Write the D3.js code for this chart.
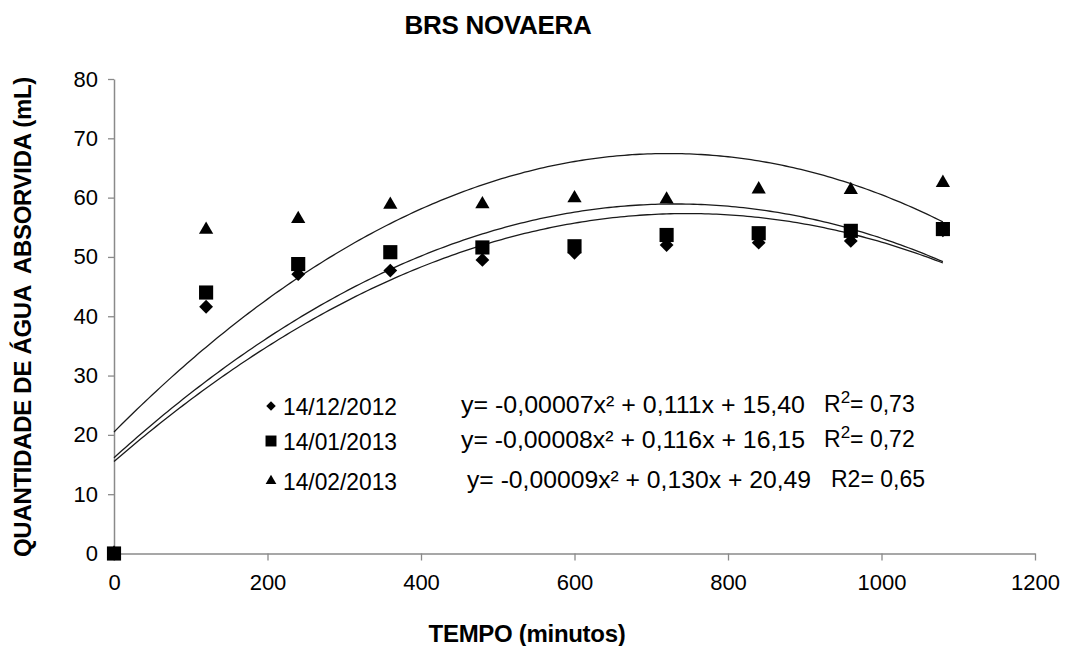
<!DOCTYPE html>
<html>
<head>
<meta charset="utf-8">
<script src="https://cdn.jsdelivr.net/npm/d3@7"></script>
<style>
  body { margin: 0; background: #fff; }
  text { font-family: "Liberation Sans", Arial, sans-serif; fill: #000; }
</style>
</head>
<body>
<svg id="chart" width="1066" height="646"></svg>
<script>
// tempo (minutos)
const tempos = [0, 120, 240, 360, 480, 600, 720, 840, 960, 1080];

// quantidade de água absorvida (mL) por data de colheita
const dez2012 = [0, 41.6, 47.1, 47.7, 49.5, 50.7, 52.0, 52.4, 52.7, 54.5];
const jan2013 = [0, 44.0, 48.8, 50.8, 51.6, 51.8, 53.7, 54.0, 54.4, 54.7];
const fev2013 = [0, 54.6, 56.4, 58.8, 58.9, 59.9, 59.7, 61.4, 61.3, 62.5];

// trendline coefficients [a, b, c] as drawn
const fitDez = [-0.000075, 0.112, 15.5];
const fitJan = [-0.00008, 0.117, 16.15];
const fitFev = [-0.00009, 0.130, 20.49];

const legendLabels = ["14/12/2012", "14/01/2013", "14/02/2013"];
const equations = [
  "y= -0,00007x² + 0,111x + 15,40",
  "y= -0,00008x² + 0,116x + 16,15",
  "y= -0,00009x² + 0,130x + 20,49",
];
const r2Labels = [["R", "2", "= 0,73"], ["R", "2", "= 0,72"], ["R2", "", "= 0,65"]];

const xTicks = [0, 200, 400, 600, 800, 1000, 1200];
const yTicks = [0, 10, 20, 30, 40, 50, 60, 70, 80];

const svg = d3.select("#chart");
const axisColor = "#8a8a8a";

const x = d3.scaleLinear().domain([0, 1200]).range([114, 1035]);
const y = d3.scaleLinear().domain([0, 80]).range([553.5, 79]);

// axes
const yAxis = svg.append("g")
  .attr("transform", `translate(${x(0)},0)`)
  .call(d3.axisLeft(y).tickValues(yTicks).tickSize(6).tickSizeOuter(0).tickPadding(10));
const xAxis = svg.append("g")
  .attr("transform", `translate(0,${y(0)})`)
  .call(d3.axisBottom(x).tickValues(xTicks).tickFormat(d3.format("d"))
    .tickSize(7).tickSizeOuter(0).tickPadding(14));

[yAxis, xAxis].forEach((g) => {
  g.select(".domain").attr("stroke", axisColor).attr("stroke-width", 1.5);
  g.selectAll(".tick line").attr("stroke", axisColor).attr("stroke-width", 1.3);
  g.selectAll(".tick text")
    .attr("fill", "#000")
    .style("font-family", '"Liberation Sans", Arial, sans-serif')
    .style("font-size", "22px");
});

// trendlines
const lineGen = d3.line()
  .x((d) => x(d[0]))
  .y((d) => y(d[1]));

const fits = [fitDez, fitJan, fitFev];
fits.forEach((f) => {
  const pts = d3.range(0, 1081, 5).map((t) => [t, f[0] * t * t + f[1] * t + f[2]]);
  svg.append("path")
    .attr("d", lineGen(pts))
    .attr("fill", "none")
    .attr("stroke", "#1a1a1a")
    .attr("stroke-width", 1.3);
});

// markers
const symDiamond = d3.symbol().type(d3.symbolSquare).size(95);
const symSquare = d3.symbol().type(d3.symbolSquare).size(200);
const symTriangle = d3.symbol().type(d3.symbolTriangle).size(88);

const series = [
  { values: dez2012, sym: symDiamond, rot: 45 },
  { values: jan2013, sym: symSquare, rot: 0 },
  { values: fev2013, sym: symTriangle, rot: 0 },
];

series.forEach((s) => {
  svg.append("g")
    .selectAll("path")
    .data(s.values)
    .join("path")
    .attr("d", s.sym())
    .attr("fill", "#000")
    .attr("transform", (d, i) => `translate(${x(tempos[i])},${y(d)}) rotate(${s.rot})`);
});

// legend (text in the reference is tall and condensed)
const legendY = [406, 441, 481];
const legendSyms = [
  d3.symbol().type(d3.symbolSquare).size(45)(),
  d3.symbol().type(d3.symbolSquare).size(120)(),
  d3.symbol().type(d3.symbolTriangle).size(50)(),
];
const legendRot = [45, 0, 0];
const eqX = [461, 461, 467];
const r2X = [824, 824, 831];

legendLabels.forEach((lab, i) => {
  svg.append("path")
    .attr("d", legendSyms[i])
    .attr("fill", "#000")
    .attr("transform", `translate(271,${legendY[i]}) rotate(${legendRot[i]})`);
  svg.append("text")
    .attr("x", 283)
    .attr("y", legendY[i])
    .attr("dy", "0.36em")
    .attr("textLength", 114)
    .attr("lengthAdjust", "spacingAndGlyphs")
    .style("font-size", "24px")
    .text(lab);
  svg.append("text")
    .attr("x", eqX[i])
    .attr("y", legendY[i] - 2)
    .attr("dy", "0.36em")
    .attr("textLength", 344)
    .attr("lengthAdjust", "spacingAndGlyphs")
    .style("font-size", "24px")
    .text(equations[i]);
  const r = svg.append("text")
    .attr("x", r2X[i])
    .attr("y", legendY[i] - 2)
    .attr("dy", "0.36em")
    .style("font-size", "23px");
  r.append("tspan").text(r2Labels[i][0]);
  if (r2Labels[i][1]) {
    r.append("tspan").attr("dy", -9).style("font-size", "17px").text(r2Labels[i][1]);
    r.append("tspan").attr("dy", 9).text(r2Labels[i][2]);
  } else {
    r.append("tspan").text(r2Labels[i][2]);
  }
});

// titles
svg.append("text")
  .attr("x", 498)
  .attr("y", 34)
  .attr("text-anchor", "middle")
  .style("font-size", "26px")
  .style("font-weight", "bold")
  .style("letter-spacing", "-0.3px")
  .text("BRS NOVAERA");

svg.append("text")
  .attr("x", 527)
  .attr("y", 642)
  .attr("text-anchor", "middle")
  .style("font-size", "24px")
  .style("font-weight", "bold")
  .style("letter-spacing", "-0.3px")
  .text("TEMPO (minutos)");

svg.append("text")
  .attr("transform", "translate(31,317) rotate(-90)")
  .attr("text-anchor", "middle")
  .style("font-size", "24px")
  .style("font-weight", "bold")
  .style("letter-spacing", "-0.3px")
  .style("white-space", "pre")
  .text("QUANTIDADE DE ÁGUA  ABSORVIDA (mL)");
</script>
</body>
</html>
